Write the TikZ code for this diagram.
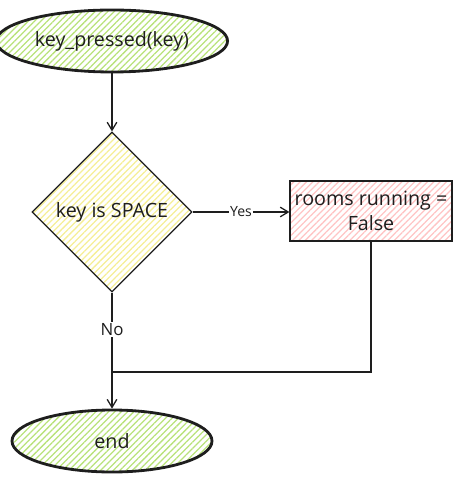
\documentclass[tikz,border=0pt]{standalone}
\usepackage{fontspec}
\setmainfont{Open Sans}
\usetikzlibrary{arrows.meta, shapes.geometric, patterns.meta}

\definecolor{sketch}{HTML}{1E1E1E}
\definecolor{hatchgreen}{HTML}{B8E27A}
\definecolor{hatchyellow}{HTML}{F5EE96}
\definecolor{hatchred}{HTML}{FFC4C4}

\begin{document}
\begin{tikzpicture}[scale=0.5,
    every node/.style={font=\fontsize{14}{18}\selectfont, text=sketch},
    terminal/.style={ellipse, draw=sketch, line width=2pt, minimum width=5cm, minimum height=1.55cm,
        pattern={Lines[angle=45, distance=3.2pt, line width=0.9pt]}, pattern color=hatchgreen},
    decision/.style={diamond, aspect=1, draw=sketch, line width=0.8pt, minimum width=4cm, minimum height=4cm, inner sep=0pt,
        pattern={Lines[angle=45, distance=3.2pt, line width=0.9pt]}, pattern color=hatchyellow},
    process/.style={rectangle, draw=sketch, line width=0.8pt, minimum width=4.05cm, minimum height=1.5cm, align=center, inner sep=2pt,
        pattern={Lines[angle=45, distance=3.2pt, line width=0.9pt]}, pattern color=hatchred},
    flow/.style={draw=sketch, line width=0.9pt},
    tip/.style={-{Straight Barb[length=2mm, width=2.4mm]}},
    edgelabel/.style={fill=white, inner sep=1pt, font=\fontsize{10}{12}\selectfont}
]
    \useasboundingbox (0,0) rectangle (23.1,-24.1);

    \node[terminal] (start) at (5.6,-2.05) {key\_pressed(key)};
    \node[decision] (check) at (5.6,-10.6) {key is SPACE};
    \node[process] (stop) at (18.55,-10.55) {rooms running =\\False};
    \node[terminal] (end) at (5.6,-22.05) {end};
    \coordinate (join) at (5.6,-18.6);

    \draw[flow, tip] (start) -- (check);
    \draw[flow, tip] (check.east) -- node[edgelabel]{Yes} (stop.west |- check.east);
    \draw[flow, tip] (check.south) -- node[edgelabel, pos=0.32, font=\fontsize{12}{14}\selectfont]{No} (end.north);
    \draw[flow] (stop.south) |- (join);
\end{tikzpicture}
\end{document}
